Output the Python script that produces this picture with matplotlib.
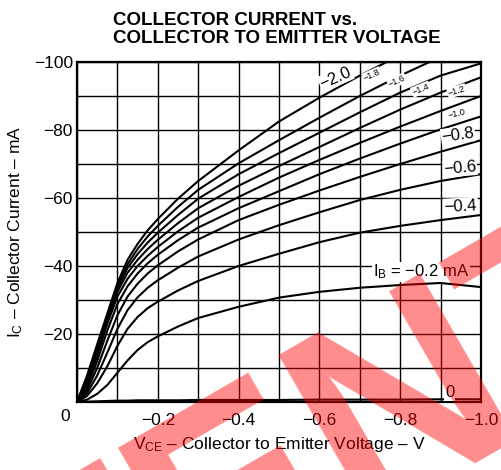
import numpy as np
import matplotlib
matplotlib.use('Agg')
import matplotlib.pyplot as plt

plt.rcParams['font.family'] = ['Liberation Sans', 'DejaVu Sans']
plt.rcParams['mathtext.fontset'] = 'custom'
plt.rcParams['mathtext.rm'] = 'Liberation Sans'
plt.rcParams['mathtext.it'] = 'Liberation Sans:italic'
plt.rcParams['mathtext.bf'] = 'Liberation Sans:bold'

# collector-emitter voltage [V]
vce = [0, -0.025, -0.05, -0.075, -0.1, -0.125, -0.15, -0.175, -0.2, -0.25,
       -0.3, -0.4, -0.5, -0.6, -0.7, -0.8, -0.9, -1.0]

# collector current [mA] for each base current IB [mA]
ic_0 = [0, 0.1, 0.2, 0.3, 0.4, 0.4, 0.5, 0.5, 0.5, 0.5,
        0.6, 0.6, 0.6, 0.7, 0.7, 0.7, 0.8, 0.8]
ic_02 = [0, 0.7, 2.4, 5.0, 8.6, 12.2, 15.3, 17.6, 19.3, 22.2,
         24.7, 28.0, 30.7, 32.4, 33.6, 34.4, 35.0, 33.8]
ic_04 = [0, 1.8, 5.5, 10.5, 16.5, 21.5, 25.0, 27.6, 29.5, 32.8,
         35.6, 40.0, 43.6, 47.0, 49.8, 51.8, 53.5, 55.0]
ic_06 = [0, 2.6, 7.8, 14.5, 21.5, 27.0, 30.8, 33.6, 35.8, 39.5,
         42.8, 47.8, 52.0, 55.8, 59.4, 62.4, 65.0, 67.0]
ic_08 = [0, 3.5, 10.0, 18.0, 25.5, 31.0, 34.8, 37.8, 40.2, 44.3,
         47.8, 53.5, 58.0, 62.2, 66.2, 70.0, 73.6, 77.0]
ic_10 = [0, 4.3, 12.0, 21.0, 28.8, 34.0, 37.8, 40.8, 43.3, 47.6,
         51.3, 57.0, 62.0, 67.0, 71.6, 76.0, 80.2, 84.0]
ic_12 = [0, 5.2, 13.6, 23.0, 31.0, 36.2, 40.0, 43.0, 45.6, 50.2,
         54.2, 60.3, 66.0, 71.2, 76.2, 81.0, 85.6, 90.0]
ic_14 = [0, 6.0, 14.8, 24.2, 32.4, 38.0, 41.8, 45.0, 47.7, 52.6,
         57.0, 63.6, 69.4, 75.0, 80.6, 86.0, 91.0, 95.5]
ic_16 = [0, 6.8, 15.8, 25.0, 33.4, 39.4, 43.5, 46.9, 49.8, 55.0,
         59.8, 67.0, 73.2, 79.2, 85.2, 91.0, 96.0, 99.6]
ic_18 = [0, 7.4, 16.4, 25.5, 34.2, 40.5, 45.0, 48.7, 51.8, 57.4,
         62.4, 70.2, 77.0, 83.6, 90.0, 96.0, 101.5, 106.5]
ic_20 = [0, 7.8, 17.0, 26.0, 35.0, 41.8, 46.5, 50.5, 53.8, 59.8,
         65.0, 74.0, 82.5, 89.5, 96.0, 102.0, 107.5, 113.0]

curves = [ic_0, ic_02, ic_04, ic_06, ic_08, ic_10, ic_12, ic_14, ic_16, ic_18, ic_20]

# curve labels: text, V, I, size, rotation
curve_labels = [('\u22122.0', -0.64, -95.3, 12, 24),
                ('\u22121.8', -0.73, -96.2, 6.5, 24),
                ('\u22121.6', -0.792, -94.4, 6.5, 24),
                ('\u22121.4', -0.851, -92.0, 6.5, 22),
                ('\u22121.2', -0.94, -91.5, 6.5, 16),
                ('\u22121.0', -0.94, -84.7, 6.5, 12),
                ('\u22120.8', -0.943, -78.5, 12, 8),
                ('\u22120.6', -0.948, -68.8, 12, 5),
                ('\u22120.4', -0.95, -57.6, 12, 3),
                ('I$_\\mathrm{B}$ = \u22120.2 mA', -0.851, -38.2, 12, 0),
                ('0', -0.923, -2.8, 12, 0)]

x_ticks = np.round(np.arange(0, -1.001, -0.1), 1)
y_ticks = np.arange(0, -100.1, -10)


def plot_chart():
    fig = plt.figure(figsize=(5.01, 4.70), dpi=100)
    ax = fig.add_axes([77 / 501, 68 / 470, 404 / 501, 340 / 470])

    for ic in curves:
        ax.plot(vce, -np.array(ic), 'k', lw=1.5, zorder=3)

    ax.set_xlim(0, -1.0)
    ax.set_ylim(0, -100)
    ax.set_xticks(x_ticks)
    ax.set_yticks(y_ticks)
    ax.set_xticklabels(['' if (i % 2 or i == 0) else '\u2212%.1f' % abs(v)
                        for i, v in enumerate(x_ticks)])
    ax.set_yticklabels(['' if (i % 2 or i == 0) else '\u2212%d' % abs(v)
                        for i, v in enumerate(y_ticks)])
    ax.tick_params(length=0, labelsize=12.5)
    ax.tick_params(axis='x', pad=8)
    ax.tick_params(axis='y', pad=3)
    ax.grid(True, color='k', lw=1.0, zorder=1)
    ax.set_axisbelow(True)
    for s in ax.spines.values():
        s.set_linewidth(1.6)

    # shared corner label
    ax.text(0.03, 4.4, '0', fontsize=12.5, ha='center', va='center', clip_on=False)

    for txt, v, i, size, rot in curve_labels:
        ax.text(v, i, txt, fontsize=size, rotation=rot, ha='center', va='center',
                rotation_mode='anchor', zorder=4,
                bbox=dict(facecolor='white', edgecolor='none', pad=0.6))

    ax.set_xlabel('V$_\\mathrm{CE}$ \u2013 Collector to Emitter Voltage \u2013 V',
                  fontsize=12.5, labelpad=5)
    ax.set_ylabel('I$_\\mathrm{C}$ \u2013 Collector Current \u2013 mA',
                  fontsize=12.5, labelpad=6)

    fig.text(113 / 501, 1 - 25 / 470, 'COLLECTOR CURRENT vs.', fontsize=13.5,
             fontweight='bold', va='baseline', ha='left')
    fig.text(113 / 501, 1 - 43 / 470, 'COLLECTOR TO EMITTER VOLTAGE', fontsize=13.5,
             fontweight='bold', va='baseline', ha='left')

    # watermark
    fig.text(52 / 501, 1 - 706 / 470, 'TENTATIVE', fontsize=200, fontweight='bold',
             color='red', alpha=0.45, rotation=30, rotation_mode='anchor',
             ha='left', va='baseline', zorder=10)

    fig.savefig('out.png', dpi=100)
    plt.close(fig)


if __name__ == '__main__':
    plot_chart()
